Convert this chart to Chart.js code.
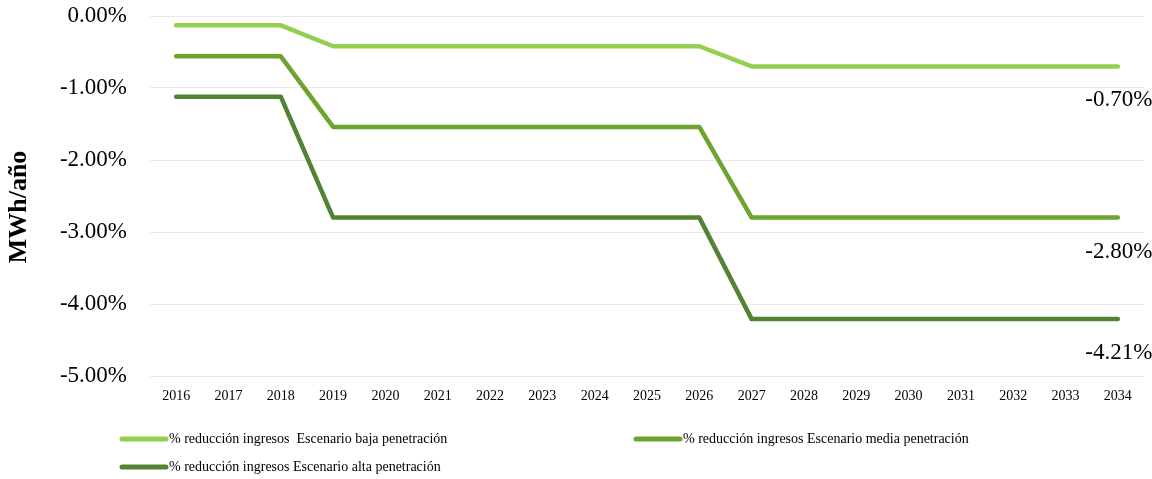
<!DOCTYPE html>
<html>
<head>
<meta charset="utf-8">
<script src="https://cdn.jsdelivr.net/npm/chart.js@4.4.1/dist/chart.umd.min.js"></script>
<style>
  html, body { margin: 0; padding: 0; background: #fff; }
  #wrap { width: 1152px; height: 479px; }
</style>
</head>
<body>
<div id="wrap"><canvas id="lineChart" width="1152" height="479"></canvas></div>
<script>
const years = ['2016','2017','2018','2019','2020','2021','2022','2023','2024','2025',
  '2026','2027','2028','2029','2030','2031','2032','2033','2034'];

// % reducción de ingresos por escenario
const bajaPen  = [-0.13,-0.13,-0.13,-0.42,-0.42,-0.42,-0.42,-0.42,-0.42,-0.42,
  -0.42,-0.70,-0.70,-0.70,-0.70,-0.70,-0.70,-0.70,-0.70];
const mediaPen = [-0.56,-0.56,-0.56,-1.54,-1.54,-1.54,-1.54,-1.54,-1.54,-1.54,
  -1.54,-2.80,-2.80,-2.80,-2.80,-2.80,-2.80,-2.80,-2.80];
const altaPen  = [-1.12,-1.12,-1.12,-2.80,-2.80,-2.80,-2.80,-2.80,-2.80,-2.80,
  -2.80,-4.21,-4.21,-4.21,-4.21,-4.21,-4.21,-4.21,-4.21];

const seriesNames = [
  '% reducción ingresos  Escenario baja penetración',
  '% reducción ingresos Escenario media penetración',
  '% reducción ingresos Escenario alta penetración'
];
const colors = ['#92d050', '#6ba42f', '#548235'];
const yTitle = 'MWh/año';

const serif = "'Liberation Serif', 'Times New Roman', serif";

// label with the final value under the last point of each line
const lastValueLabels = {
  id: 'lastValueLabels',
  afterDatasetsDraw(chart) {
    const ctx = chart.ctx;
    ctx.save();
    ctx.font = '23px ' + serif;
    ctx.fillStyle = '#000';
    ctx.textAlign = 'center';
    ctx.textBaseline = 'middle';
    chart.data.datasets.forEach((ds, i) => {
      const meta = chart.getDatasetMeta(i);
      const pt = meta.data[meta.data.length - 1];
      const v = ds.data[ds.data.length - 1];
      ctx.fillText(v.toFixed(2) + '%', pt.x + 1, pt.y + 34);
    });
    ctx.restore();
  }
};

// rotated y axis title, sitting a bit below the middle of the plot
const axisTitle = {
  id: 'axisTitle',
  afterDraw(chart) {
    const ctx = chart.ctx;
    const area = chart.chartArea;
    ctx.save();
    ctx.translate(19, (area.top + area.bottom) / 2 + 11);
    ctx.rotate(-Math.PI / 2);
    ctx.font = 'bold 26px ' + serif;
    ctx.fillStyle = '#000';
    ctx.textAlign = 'center';
    ctx.textBaseline = 'middle';
    ctx.fillText(yTitle, 0, 0);
    ctx.restore();
  }
};

// two-column legend at the bottom
const bottomLegend = {
  id: 'bottomLegend',
  afterDraw(chart) {
    const ctx = chart.ctx;
    const spots = [[120, 439], [634, 439], [120, 467]];
    ctx.save();
    ctx.font = '14px ' + serif;
    ctx.textBaseline = 'middle';
    ctx.lineCap = 'round';
    chart.data.datasets.forEach((ds, i) => {
      const [x, y] = spots[i];
      ctx.strokeStyle = ds.borderColor;
      ctx.lineWidth = 5;
      ctx.beginPath();
      ctx.moveTo(x + 2, y);
      ctx.lineTo(x + 46, y);
      ctx.stroke();
      ctx.fillStyle = '#000';
      ctx.fillText(ds.label, x + 49, y);
    });
    ctx.restore();
  }
};

new Chart(document.getElementById('lineChart'), {
  type: 'line',
  data: {
    labels: years,
    datasets: [bajaPen, mediaPen, altaPen].map((vals, i) => ({
      label: seriesNames[i],
      data: vals,
      borderColor: colors[i],
      backgroundColor: colors[i],
      borderWidth: 4.5,
      borderCapStyle: 'round',
      borderJoinStyle: 'round',
      pointRadius: 0,
      tension: 0
    }))
  },
  options: {
    responsive: false,
    animation: false,
    layout: { padding: { top: 16, right: 8, left: 0, bottom: 0 } },
    plugins: {
      legend: { display: false },
      tooltip: { enabled: false }
    },
    scales: {
      x: {
        offset: true,
        grid: { display: false, drawTicks: false },
        border: { display: false },
        ticks: {
          color: '#000',
          font: { family: serif, size: 14 },
          padding: 12,
          maxRotation: 0,
          autoSkip: false
        },
        afterFit(scale) { scale.height = 103; }
      },
      y: {
        min: -5,
        max: 0,
        grid: { color: '#e9e9e9', lineWidth: 1, drawTicks: false },
        border: { display: false },
        ticks: {
          stepSize: 1,
          color: '#000',
          font: { family: serif, size: 23 },
          padding: 23,
          callback: v => v.toFixed(2) + '%'
        },
        afterFit(scale) {
          scale.width = 150;
          scale.paddingTop = 0;
          scale.paddingBottom = 0;
        }
      }
    }
  },
  plugins: [lastValueLabels, axisTitle, bottomLegend]
});
</script>
</body>
</html>
